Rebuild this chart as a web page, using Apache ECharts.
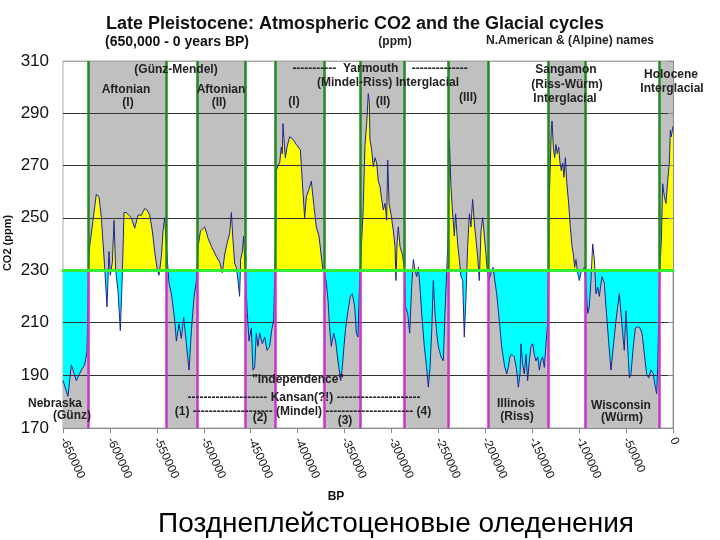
<!DOCTYPE html>
<html>
<head>
<meta charset="utf-8">
<title>Late Pleistocene: Atmospheric CO2 and the Glacial cycles</title>
<script src="https://cdn.jsdelivr.net/npm/echarts@6/dist/echarts.min.js"></script>
<style>
  html, body { margin: 0; padding: 0; background: #fff; }
  #chart { width: 720px; height: 540px; }
</style>
</head>
<body>
<div id="chart"></div>
<script>
// years BP (negative = before present)
const bpYears = [
  -650000, -644700, -641100, -635800, -630500, -626900, -624400, -622300, -614500, -611600,
  -609100, -605600, -603100, -601000, -599600, -597400, -595600, -593900, -591400, -588900,
  -586800, -585000, -582500, -580000, -577200, -573600, -570000, -566500, -563000, -560500,
  -557600, -554800, -552300, -549500, -547700, -545200, -543400, -541600, -539900, -537000,
  -534500, -531000, -529200, -526400, -523900, -521400, -518500, -515700, -513200, -510300,
  -507800, -506000, -503500, -498900, -495300, -491800, -486400, -483100, -480200, -477700,
  -475300, -472400, -470600, -468900, -467100, -465300, -463500, -461800, -460700, -458900,
  -457500, -455400, -453600, -451800, -449300, -447600, -445800, -444000, -442200, -440400,
  -437600, -435100, -432600, -429800, -427700, -425500, -424500, -423400, -422700, -420900,
  -419100, -417400, -416300, -415600, -414500, -413100, -411300, -408500, -404900, -401400,
  -397100, -395000, -392500, -390700, -388200, -385400, -382900, -380100, -377200, -374700,
  -373000, -371200, -369400, -367600, -365900, -364100, -361600, -359500, -357000, -354100,
  -352400, -350600, -348800, -346300, -343800, -341700, -339200, -337400, -335700, -333900,
  -332100, -330300, -328200, -326400, -324700, -323600, -322900, -321100, -319300, -317500,
  -315800, -314000, -312200, -310400, -308700, -306900, -305100, -304000, -302600, -300500,
  -298000, -296200, -295200, -294100, -292700, -290900, -288400, -286300, -284900, -282700,
  -280600, -278500, -276700, -274900, -273100, -271400, -269600, -267800, -265000, -262500,
  -260700, -258900, -257200, -255400, -253600, -251800, -250100, -247200, -244700, -243000,
  -241200, -239400, -238300, -236600, -234800, -233000, -231600, -229500, -227700, -225900,
  -224100, -222400, -220600, -218800, -217000, -215300, -213500, -211700, -209900, -208100,
  -206400, -204600, -202800, -201000, -199300, -197800, -196100, -193900, -191800, -189700,
  -187900, -186100, -184300, -182600, -179700, -177200, -175500, -173700, -171900, -169100,
  -166600, -164800, -163000, -162000, -160200, -158400, -156600, -154900, -153100, -151300,
  -149500, -147800, -146000, -144200, -142400, -140700, -138900, -137100, -135300, -133600,
  -132500, -131800, -130700, -129700, -128900, -127500, -126100, -124700, -123300, -121800,
  -120400, -119000, -117600, -116200, -114700, -113300, -111200, -109400, -107600, -106200,
  -104800, -103400, -101600, -99800, -98000, -96300, -94500, -92700, -90900, -89200,
  -87400, -85600, -83800, -82100, -80300, -78500, -75700, -73200, -71400, -68600,
  -66100, -63600, -60700, -59000, -57200, -55400, -53600, -51900, -50100, -48300,
  -46500, -44800, -42300, -40100, -37700, -35200, -33000, -30500, -28100, -25900,
  -23400, -21000, -18800, -17400, -16300, -15300, -13900, -12400, -11000, -9200,
  -7500, -5700, -3900, -2800, -1800, 0
];

// CO2, ppm
const co2Ppm = [
  188, 182, 194, 188, 192, 194, 199, 237, 259, 258,
  250, 231, 216, 237, 228, 233, 249, 230, 222, 207,
  228, 252, 252, 251, 250, 246, 251, 251, 253.5, 253,
  251, 245, 237, 230, 228, 235, 245, 250, 239, 225,
  221, 211, 203, 209.5, 204, 212, 202, 192, 207, 220,
  226, 239, 245, 246.5, 242, 239, 235, 233, 229, 236,
  240, 244, 252, 241.5, 232.5, 231, 226, 220, 234, 237,
  243, 226, 213.5, 203, 208, 192, 193, 206, 201, 206,
  202, 204.5, 199.5, 201, 207, 211, 226, 243, 268, 270,
  271, 277, 274.5, 286, 280, 273, 277, 281, 280, 278,
  276, 264, 250, 258, 260.5, 264, 255.5, 246.5, 243, 235,
  230, 229, 225, 218.5, 208, 201, 206, 203, 195.5, 188,
  193, 201, 208, 214.5, 220, 221, 216, 206, 204.5, 226,
  239, 251.5, 278, 286, 297.5, 294, 280, 276, 269.5, 273,
  271, 264, 262, 257, 253, 255.5, 249, 272, 255.5, 251.5,
  245, 239, 226, 240, 246.5, 239, 236, 231, 216, 213.5,
  206, 223.5, 234, 230, 227.5, 231, 223.5, 213.5, 201, 193,
  185.5, 193, 206, 226, 213.5, 206, 201, 197, 195.5, 213.5,
  229, 245, 280, 262, 251.5, 243, 251.5, 240, 234, 227.5,
  226, 204.5, 220, 239, 251.5, 246.5, 257, 248, 241.5, 235,
  226, 245, 250, 243, 236, 229.5, 226, 229, 231, 230.5,
  221, 214.5, 208, 201, 194, 190.5, 193, 197, 198, 197,
  192, 185.5, 190.5, 202, 194, 190.5, 198, 188, 195.5, 201,
  202, 198, 195.5, 197, 192, 195.5, 197, 193, 202, 209.5,
  232.5, 258, 271, 283.5, 287, 277, 273, 278, 274.5, 277,
  271, 268, 271, 265.5, 273, 264, 255.5, 246.5, 239, 236,
  231, 234, 229, 226, 229, 230, 231, 223.5, 213.5, 216,
  226, 240, 234, 221, 223.5, 220, 227.5, 225, 216, 203,
  192, 201, 211, 216, 221, 213.5, 206, 199.5, 214.5, 201,
  189, 190.5, 201, 208, 208.5, 208, 206, 198, 190.5, 189,
  192, 190.5, 185.5, 183, 193, 209.5, 231, 241.5, 263, 258,
  255.5, 264, 271, 283.5, 281, 285
];

// stage boundaries (years BP)
const stageBounds = [-623000, -540000, -507000, -456000, -424000, -372000, -333000,
  -286000, -240000, -197000, -133000, -94000, -15000];
// interglacials (grey above 230 ppm)
const interglacials = [[-623000, -540000], [-507000, -456000], [-424000, -372000],
  [-333000, -286000], [-240000, -197000], [-133000, -94000], [-15000, 0]];
// glacials (grey below 230 ppm)
const glacials = [[-650000, -623000], [-540000, -507000], [-456000, -424000],
  [-372000, -333000], [-286000, -240000], [-197000, -133000], [-94000, -15000]];

const threshold = 230;
const yMin = 170, yMax = 310, yStep = 20;
const xMin = -650000, xMax = 0, xStep = 50000;

// text inside the plot: [text, x, y]
const notes = [
  ['(Günz-Mendel)', 176, 70],
  ['Aftonian', 126, 90], ['(I)', 128, 103],
  ['Aftonian', 221, 90], ['(II)', 219, 103],
  ['(I)', 294, 102],
  ['-----------  Yarmouth    --------------', 380, 69],
  ['(Mindel-Riss) Interglacial', 388, 83],
  ['(II)', 383, 102],
  ['(III)', 468, 98],
  ['Sangamon', 566, 70], ['(Riss-Würm)', 567, 85], ['Interglacial', 565, 99],
  ['Holocene', 671, 75], ['Interglacial', 672, 89],
  ['Nebraska', 55, 404], ['(Günz)', 72, 416],
  ['"Independence"', 298, 380],
  ['-------------------- Kansan(?!) ---------------------', 304, 398],
  ['(1) -------------------- (Mindel) ---------------------- (4)', 303, 412],
  ['(2)', 260, 418], ['(3)', 345, 421],
  ['Illinois', 516, 404], ['(Riss)', 517, 417],
  ['Wisconsin', 621, 406], ['(Würm)', 622, 418]
];

const FONT = "'Liberation Sans', Arial, sans-serif";
const NAVY = '#1c2590';
const points = bpYears.map((x, i) => [x, co2Ppm[i]]);

// grey backgrounds: interglacials in the upper grid, glacials in the lower one
const topBands = interglacials.map(b => [{ xAxis: b[0], yAxis: threshold }, { xAxis: b[1], yAxis: yMax }]);
const bottomBands = glacials.map(b => [{ xAxis: b[0], yAxis: yMin }, { xAxis: b[1], yAxis: threshold }]);

const greenLines = stageBounds.map(x => [
  { coord: [x, threshold], lineStyle: { color: '#1f8a1f', width: 2.5, type: 'solid' } },
  { coord: [x, yMax] }
]);
const magentaLines = stageBounds.map(x => [
  { coord: [x, yMin], lineStyle: { color: '#cc33cc', width: 2.5, type: 'solid' } },
  { coord: [x, threshold] }
]);

function text(t, x, y, font, fill, extra) {
  return Object.assign({
    type: 'text', x: x, y: y, z: 100, silent: true,
    style: {
      text: t, font: font, fill: fill || '#222',
      align: 'center', verticalAlign: 'middle',
      textAlign: 'center', textVerticalAlign: 'middle'
    }
  }, extra || {});
}

const graphics = [
  text('Late Pleistocene: Atmospheric CO2 and the Glacial cycles', 355, 24, 'bold 18px ' + FONT, '#111'),
  text('(650,000 - 0 years BP)', 177, 42, 'bold 14px ' + FONT, '#111'),
  text('(ppm)', 395, 42, 'bold 12px ' + FONT),
  text('N.American & (Alpine) names', 570, 41, 'bold 12px ' + FONT),
  text('CO2 (ppm)', 8, 243, 'bold 11px ' + FONT, '#111', { rotation: Math.PI / 2 }),
  text('BP', 336, 497, 'bold 12px ' + FONT, '#111'),
  text('Позднеплейстоценовые оледенения', 396, 524, '28px ' + FONT, '#000')
];
notes.forEach(n => graphics.push(text(n[0], n[1], n[2], 'bold 12px ' + FONT)));

const axisGrey = '#888';
const valueLabel = v => String(v);

const chart = echarts.init(document.getElementById('chart'));

chart.setOption({
  animation: false,
  backgroundColor: '#fff',
  // upper grid: 230-310 ppm, lower grid: 170-230 ppm
  grid: [
    { left: 63, right: 47, top: 61, height: 209, show: true, backgroundColor: '#fff', borderColor: '#a8a8a8', borderWidth: 1 },
    { left: 63, right: 47, top: 270, height: 158, show: true, backgroundColor: '#fff', borderColor: '#a8a8a8', borderWidth: 1 }
  ],
  xAxis: [
    {
      gridIndex: 0, type: 'value', min: xMin, max: xMax, interval: xStep, z: 8,
      axisLine: { show: true, onZero: false, lineStyle: { color: '#33ee33', width: 3 } },
      axisTick: { show: false }, axisLabel: { show: false }, splitLine: { show: false }
    },
    {
      gridIndex: 1, type: 'value', min: xMin, max: xMax, interval: xStep, z: 5,
      axisLine: { onZero: false, lineStyle: { color: axisGrey, width: 1 } },
      axisTick: { show: true, length: 5, lineStyle: { color: axisGrey } },
      splitLine: { show: false },
      axisLabel: {
        rotate: -65, fontSize: 12, color: '#111', fontFamily: FONT, margin: 10,
        showMinLabel: true, showMaxLabel: true, formatter: valueLabel
      }
    }
  ],
  yAxis: [
    {
      gridIndex: 0, type: 'value', min: threshold, max: yMax, interval: yStep, z: 5,
      axisLine: { show: true, lineStyle: { color: axisGrey, width: 1 } },
      axisTick: { show: true, length: 5, lineStyle: { color: axisGrey } },
      axisLabel: { fontSize: 17, color: '#111', fontFamily: FONT, margin: 14 },
      splitLine: { show: true, lineStyle: { color: ['#333', '#333', '#333', '#333', '#aaa'], width: 1 } }
    },
    {
      gridIndex: 1, type: 'value', min: yMin, max: threshold, interval: yStep, z: 5,
      axisLine: { show: true, lineStyle: { color: axisGrey, width: 1 } },
      axisTick: { show: true, length: 5, lineStyle: { color: axisGrey } },
      axisLabel: { fontSize: 17, color: '#111', fontFamily: FONT, margin: 14, showMaxLabel: false },
      splitLine: { show: true, lineStyle: { color: [axisGrey, '#333', '#333', '#333'], width: 1 } }
    }
  ],
  series: [
    {
      name: 'above 230', type: 'line', xAxisIndex: 0, yAxisIndex: 0, data: points, z: 2,
      symbol: 'none', silent: true, clip: true,
      lineStyle: { width: 0, opacity: 0 },
      areaStyle: { origin: 'start', color: '#ffff00', opacity: 1 },
      markArea: { z: 1, silent: true, itemStyle: { color: '#c0c0c0', opacity: 1 }, data: topBands },
      markLine: { z: 7, silent: true, symbol: ['none', 'none'], label: { show: false }, data: greenLines }
    },
    {
      name: 'CO2', type: 'line', xAxisIndex: 0, yAxisIndex: 0, data: points, z: 6,
      symbol: 'none', silent: true, clip: true,
      lineStyle: { color: NAVY, width: 1 }
    },
    {
      name: 'below 230', type: 'line', xAxisIndex: 1, yAxisIndex: 1, data: points, z: 2,
      symbol: 'none', silent: true, clip: true,
      lineStyle: { width: 0, opacity: 0 },
      areaStyle: { origin: 'end', color: '#00ffff', opacity: 1 },
      markArea: { z: 1, silent: true, itemStyle: { color: '#c0c0c0', opacity: 1 }, data: bottomBands },
      markLine: { z: 7, silent: true, symbol: ['none', 'none'], label: { show: false }, data: magentaLines }
    },
    {
      name: 'CO2 ', type: 'line', xAxisIndex: 1, yAxisIndex: 1, data: points, z: 6,
      symbol: 'none', silent: true, clip: true,
      lineStyle: { color: NAVY, width: 1 }
    }
  ],
  graphic: graphics
});
</script>
</body>
</html>
